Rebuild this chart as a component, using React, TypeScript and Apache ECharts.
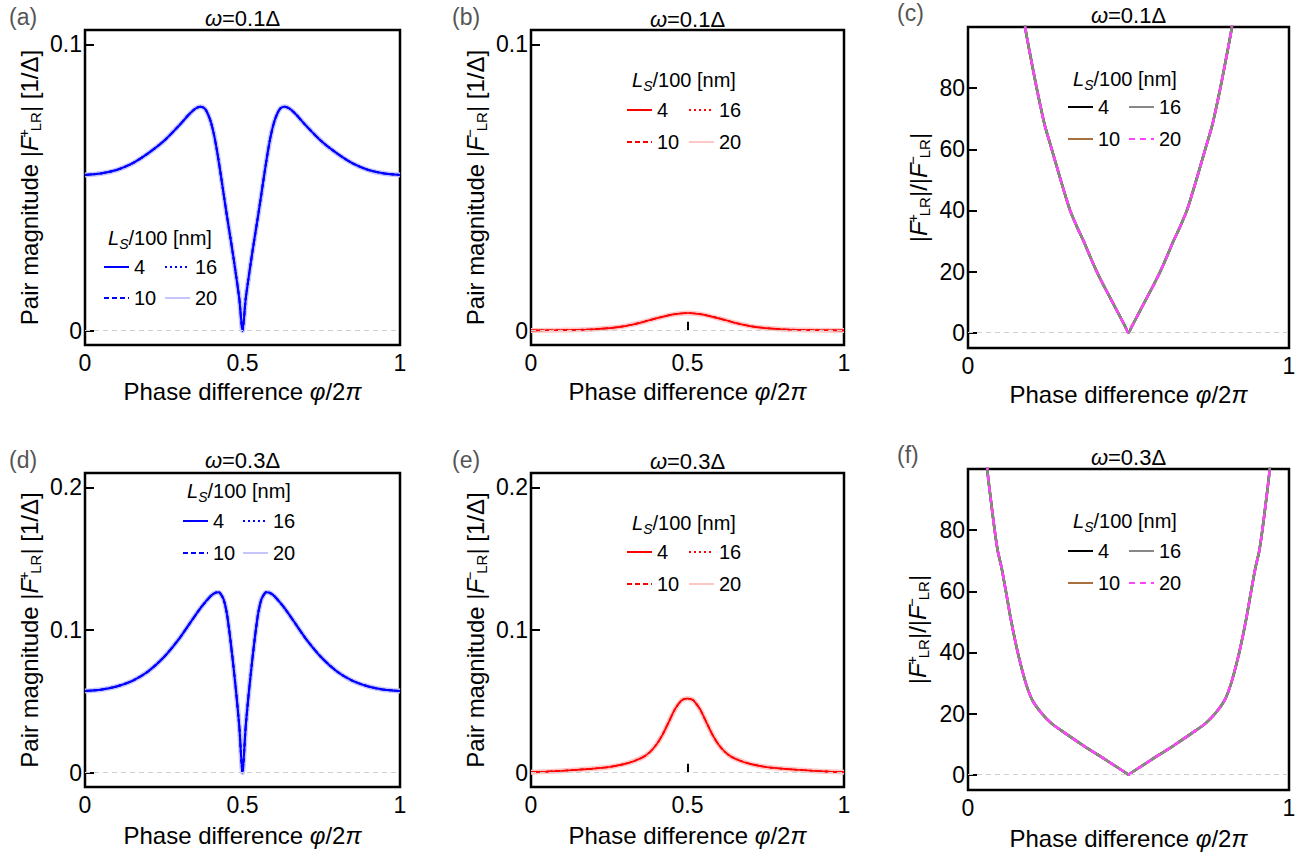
import React, { useEffect, useRef } from "react";
import * as echarts from "echarts";

const FONT = "'Liberation Sans', Arial, Helvetica, sans-serif";

// ---------- categories / tick labels ----------
const lengthLabels = ["4", "10", "16", "20"];
const panelIds = ["a", "b", "c", "d", "e", "f"];
const omegaLabels = ["0.1", "0.1", "0.1", "0.3", "0.3", "0.3"];
const xTicksFull = [0, 0.5, 1];
const xTicksEnds = [0, 1];
const yTicksLow = [0, 0.1];
const yTicksHigh = [0, 0.1, 0.2];
const yTicksRatio = [0, 20, 40, 60, 80];

// ---------- (a) |F+| , omega = 0.1 ----------
const phiA = [0, 0.05, 0.1, 0.15, 0.2, 0.25, 0.3, 0.33, 0.35, 0.366, 0.38, 0.39, 0.4, 0.41, 0.42, 0.43, 0.44, 0.45, 0.46, 0.47, 0.48, 0.49, 0.5,
  0.51, 0.52, 0.53, 0.54, 0.55, 0.56, 0.57, 0.58, 0.59, 0.6, 0.61, 0.62, 0.634, 0.65, 0.67, 0.7, 0.75, 0.8, 0.85, 0.9, 0.95, 1];
const valA = [0.0544, 0.0549, 0.0561, 0.0584, 0.0619, 0.0662, 0.0718, 0.0755, 0.0775, 0.0782, 0.0776, 0.0757, 0.0727, 0.0682, 0.0622, 0.0552, 0.0478, 0.0405, 0.0335, 0.0265, 0.019, 0.011, 0,
  0.011, 0.019, 0.0265, 0.0335, 0.0405, 0.0478, 0.0552, 0.0622, 0.0682, 0.0727, 0.0757, 0.0776, 0.0782, 0.0775, 0.0755, 0.0718, 0.0662, 0.0619, 0.0584, 0.0561, 0.0549, 0.0544];

// ---------- (b) |F-| , omega = 0.1 ----------
const phiB = [0, 0.1, 0.15, 0.2, 0.25, 0.3, 0.35, 0.4, 0.45, 0.5, 0.55, 0.6, 0.65, 0.7, 0.75, 0.8, 0.85, 0.9, 1];
const valB = [0.0001, 0.0002, 0.0003, 0.0005, 0.0009, 0.0016, 0.0028, 0.0043, 0.0056, 0.0062, 0.0056, 0.0043, 0.0028, 0.0016, 0.0009, 0.0005, 0.0003, 0.0002, 0.0001];

// ---------- (c) ratio , omega = 0.1 ----------
const phiC = [0.15, 0.178, 0.19, 0.2, 0.214, 0.23, 0.24, 0.261, 0.29, 0.318, 0.34, 0.36, 0.38, 0.401, 0.42, 0.45, 0.47, 0.49, 0.5,
  0.51, 0.53, 0.55, 0.58, 0.599, 0.62, 0.64, 0.66, 0.682, 0.71, 0.739, 0.76, 0.77, 0.786, 0.8, 0.81, 0.822, 0.85];
const valC = [125, 100, 93, 87.5, 80, 72, 67.5, 60, 49.5, 40, 34.5, 30, 25, 20, 16, 10, 6, 2, 0,
  2, 6, 10, 16, 20, 25, 30, 34.5, 40, 49.5, 60, 67.5, 72, 80, 87.5, 93, 100, 125];

// ---------- (d) |F+| , omega = 0.3 ----------
const phiD = [0, 0.05, 0.1, 0.15, 0.2, 0.25, 0.3, 0.34, 0.37, 0.4, 0.415, 0.425, 0.43, 0.44, 0.45, 0.46, 0.47, 0.48, 0.49, 0.5,
  0.51, 0.52, 0.53, 0.54, 0.55, 0.56, 0.57, 0.575, 0.585, 0.6, 0.63, 0.66, 0.7, 0.75, 0.8, 0.85, 0.9, 0.95, 1];
const valD = [0.0573, 0.0582, 0.0604, 0.0643, 0.0709, 0.0809, 0.0942, 0.107, 0.1163, 0.124, 0.1262, 0.1265, 0.1255, 0.1215, 0.112, 0.096, 0.077, 0.056, 0.032, 0,
  0.032, 0.056, 0.077, 0.096, 0.112, 0.1215, 0.1255, 0.1265, 0.1262, 0.124, 0.1163, 0.107, 0.0942, 0.0809, 0.0709, 0.0643, 0.0604, 0.0582, 0.0573];

// ---------- (e) |F-| , omega = 0.3 ----------
const phiE = [0, 0.05, 0.1, 0.15, 0.2, 0.25, 0.3, 0.33, 0.36, 0.38, 0.4, 0.42, 0.44, 0.46, 0.48, 0.49, 0.5, 0.51, 0.52, 0.54, 0.56, 0.58, 0.6, 0.62, 0.64, 0.67, 0.7, 0.75, 0.8, 0.85, 0.9, 0.95, 1];
const valE = [0.0004, 0.0008, 0.0014, 0.0021, 0.0029, 0.004, 0.0062, 0.0083, 0.0112, 0.0145, 0.0195, 0.0265, 0.0355, 0.0445, 0.0505, 0.0516, 0.052, 0.0516, 0.0505, 0.0445, 0.0355, 0.0265, 0.0195, 0.0145, 0.0112, 0.0083, 0.0062, 0.004, 0.0029, 0.0021, 0.0014, 0.0008, 0.0004];

// ---------- (f) ratio , omega = 0.3 ----------
const phiF = [0.05, 0.06, 0.071, 0.083, 0.093, 0.104, 0.118, 0.135, 0.155, 0.18, 0.2, 0.23, 0.26, 0.29, 0.36, 0.43, 0.49, 0.5,
  0.51, 0.57, 0.64, 0.71, 0.74, 0.77, 0.8, 0.82, 0.845, 0.865, 0.882, 0.896, 0.907, 0.917, 0.929, 0.94, 0.95];
const valF = [116, 100, 90, 80, 73, 68, 60, 50, 40, 30, 24.5, 20, 16.8, 14.5, 9.5, 4.8, 0.7, 0,
  0.7, 4.8, 9.5, 14.5, 16.8, 20, 24.5, 30, 40, 50, 60, 68, 73, 80, 90, 100, 116];

// ---------- styles ----------
type LineSty = { color: string; width: number; type: any };
const bluePalette: Record<string, LineSty> = {
  "4": { color: "#0000ff", width: 2, type: "solid" },
  "10": { color: "#0000ff", width: 2, type: [5, 3] },
  "16": { color: "#0000ff", width: 2, type: [2, 3] },
  "20": { color: "#c6c6ff", width: 5, type: "solid" },
};
const redPalette: Record<string, LineSty> = {
  "4": { color: "#ff0000", width: 1.6, type: "solid" },
  "10": { color: "#ff0000", width: 1.6, type: [5, 3] },
  "16": { color: "#ff0000", width: 1.6, type: [2, 3] },
  "20": { color: "#ffc6c6", width: 5, type: "solid" },
};
const ratioPalette: Record<string, LineSty> = {
  "4": { color: "#000000", width: 2.5, type: "solid" },
  "10": { color: "#a8703e", width: 2.5, type: "solid" },
  "16": { color: "#888888", width: 2.5, type: "solid" },
  "20": { color: "#ff44ff", width: 2.5, type: [6, 5] },
};

const Y_NAME_PLUS = "Pair magnitude |{i|F}{sup|+}{sub|LR}| [1/Δ]";
const Y_NAME_MINUS = "Pair magnitude |{i|F}{sup|−}{sub|LR}| [1/Δ]";
const Y_NAME_RATIO = "|{i|F}{sup|+}{sub|LR}|/|{i|F}{sup|−}{sub|LR}|";
const X_NAME = "Phase difference {i|φ}/2{i|π}";

type Panel = {
  phi: number[];
  vals: number[];
  kind: "plus" | "minus" | "ratio";
  grid: { left: number; top: number; width: number; height: number };
  yMin: number;
  yMax: number;
  yTicks: number[];
  xTicks: number[];
  yName: string;
  yNameGap: number;
  xNameGap: number;
  legend: { c1: number; c2: number; top: number; gap: number; hx: number; hy: number };
  label: { x: number; y: number };
  titleY: number;
};

const panels: Panel[] = [
  {
    phi: phiA, vals: valA, kind: "plus",
    grid: { left: 85, top: 30, width: 315, height: 315 },
    yMin: -0.005, yMax: 0.105, yTicks: yTicksLow, xTicks: xTicksFull,
    yName: Y_NAME_PLUS, yNameGap: 42, xNameGap: 34,
    legend: { c1: 103, c2: 164, top: 257, gap: 11, hx: 160, hy: 238 },
    label: { x: 9, y: 17 }, titleY: 18,
  },
  {
    phi: phiB, vals: valB, kind: "minus",
    grid: { left: 531, top: 30, width: 313, height: 315 },
    yMin: -0.005, yMax: 0.105, yTicks: yTicksLow, xTicks: xTicksFull,
    yName: Y_NAME_MINUS, yNameGap: 42, xNameGap: 34,
    legend: { c1: 626, c2: 688, top: 100, gap: 12, hx: 684, hy: 80 },
    label: { x: 452, y: 17 }, titleY: 19,
  },
  {
    phi: phiC, vals: valC, kind: "ratio",
    grid: { left: 968, top: 27, width: 321, height: 321 },
    yMin: -5, yMax: 100, yTicks: yTicksRatio, xTicks: xTicksEnds,
    yName: Y_NAME_RATIO, yNameGap: 36, xNameGap: 34,
    legend: { c1: 1067, c2: 1128, top: 97, gap: 12, hx: 1125, hy: 79 },
    label: { x: 897, y: 13 }, titleY: 15,
  },
  {
    phi: phiD, vals: valD, kind: "plus",
    grid: { left: 85, top: 473, width: 315, height: 314 },
    yMin: -0.01, yMax: 0.21, yTicks: yTicksHigh, xTicks: xTicksFull,
    yName: Y_NAME_PLUS, yNameGap: 42, xNameGap: 36,
    legend: { c1: 182, c2: 242, top: 511, gap: 12, hx: 239, hy: 491 },
    label: { x: 9, y: 460 }, titleY: 460,
  },
  {
    phi: phiE, vals: valE, kind: "minus",
    grid: { left: 531, top: 473, width: 313, height: 314 },
    yMin: -0.01, yMax: 0.21, yTicks: yTicksHigh, xTicks: xTicksFull,
    yName: Y_NAME_MINUS, yNameGap: 42, xNameGap: 36,
    legend: { c1: 626, c2: 688, top: 542, gap: 12, hx: 684, hy: 523 },
    label: { x: 452, y: 460 }, titleY: 461,
  },
  {
    phi: phiF, vals: valF, kind: "ratio",
    grid: { left: 968, top: 469, width: 321, height: 321 },
    yMin: -5, yMax: 100, yTicks: yTicksRatio, xTicks: xTicksEnds,
    yName: Y_NAME_RATIO, yNameGap: 37, xNameGap: 36,
    legend: { c1: 1067, c2: 1128, top: 541, gap: 12, hx: 1125, hy: 521 },
    label: { x: 897, y: 455 }, titleY: 457,
  },
];

const nameStyle = (size: number) => ({
  fontSize: size,
  fontFamily: FONT,
  color: "#000",
  rich: {
    i: { fontSize: size, fontFamily: FONT, color: "#000", fontStyle: "italic" },
    sup: { fontSize: 15, fontFamily: FONT, color: "#000", verticalAlign: "top", width: 4, padding: [0, 0, 0, 1] },
    sub: { fontSize: 15, fontFamily: FONT, color: "#000", verticalAlign: "bottom", padding: [12, 0, 0, 0] },
  },
});

function buildOption() {
  const grid: any[] = [];
  const xAxis: any[] = [];
  const yAxis: any[] = [];
  const series: any[] = [];
  const legend: any[] = [];
  const graphic: any[] = [];

  panels.forEach((p, i) => {
    const id = panelIds[i];
    grid.push({
      ...p.grid,
      show: true,
      borderColor: "#000",
      borderWidth: 2.5,
      backgroundColor: "transparent",
      containLabel: false,
    });
    xAxis.push({
      gridIndex: i,
      type: "value",
      min: 0,
      max: 1,
      axisLine: { show: false },
      splitLine: { show: false },
      axisTick: { show: true, inside: true, length: 9, lineStyle: { color: "#000", width: 2 }, customValues: p.xTicks },
      axisLabel: { customValues: p.xTicks, fontSize: 23, fontFamily: FONT, color: "#000", margin: 6 },
      name: X_NAME,
      nameLocation: "middle",
      nameGap: p.xNameGap,
      nameTextStyle: {
        fontSize: 24,
        fontFamily: FONT,
        color: "#000",
        rich: { i: { fontSize: 24, fontFamily: FONT, color: "#000", fontStyle: "italic" } },
      },
    });
    yAxis.push({
      gridIndex: i,
      type: "value",
      min: p.yMin,
      max: p.yMax,
      axisLine: { show: false },
      splitLine: { show: false },
      axisTick: { show: true, inside: true, length: 9, lineStyle: { color: "#000", width: 2 }, customValues: p.yTicks },
      axisLabel: { customValues: p.yTicks, fontSize: 23, fontFamily: FONT, color: "#000", margin: 3 },
      name: p.yName,
      nameLocation: "middle",
      nameGap: p.yNameGap,
      nameTextStyle: nameStyle(24),
    });

    const palette = p.kind === "plus" ? bluePalette : p.kind === "minus" ? redPalette : ratioPalette;
    const order = p.kind === "ratio" ? ["4", "10", "16", "20"] : ["20", "16", "10", "4"];
    const data = p.phi.map((x, k) => [x, p.vals[k]]);
    order.forEach((L, k) => {
      const st = palette[L];
      const s: any = {
        type: "line",
        name: id + L,
        xAxisIndex: i,
        yAxisIndex: i,
        data,
        symbol: "none",
        showSymbol: false,
        smooth: 0.25,
        clip: true,
        silent: true,
        emphasis: { disabled: true },
        lineStyle: { color: st.color, width: st.width, type: st.type },
        itemStyle: { color: st.color },
      };
      if (k === 0) {
        s.markLine = {
          silent: true,
          symbol: ["none", "none"],
          label: { show: false },
          lineStyle: { color: "#cfcfcf", type: [5, 4], width: 1 },
          data: [{ yAxis: 0 }],
        };
      }
      series.push(s);
    });

    const legendBase = {
      orient: "vertical",
      top: p.legend.top,
      itemWidth: 25,
      itemHeight: 14,
      itemGap: p.legend.gap,
      padding: 0,
      selectedMode: false,
      formatter: (n: string) => n.slice(1),
      itemStyle: { opacity: 0, borderWidth: 0 },
      textStyle: { fontSize: 20, fontFamily: FONT, color: "#000" },
    };
    legend.push({ ...legendBase, left: p.legend.c1, data: [id + lengthLabels[0], id + lengthLabels[1]] });
    legend.push({ ...legendBase, left: p.legend.c2, data: [id + lengthLabels[2], id + lengthLabels[3]] });

    // legend header
    graphic.push({
      type: "text",
      x: p.legend.hx,
      y: p.legend.hy,
      silent: true,
      style: {
        text: "{i|L}{s|S}/100 [nm]",
        fontSize: 20,
        fontFamily: FONT,
        fill: "#000",
        align: "center",
        verticalAlign: "middle",
        textAlign: "center",
        textVerticalAlign: "middle",
        rich: {
          i: { fontSize: 20, fontFamily: FONT, fill: "#000", fontStyle: "italic" },
          s: { fontSize: 14, fontFamily: FONT, fill: "#000", fontStyle: "italic", verticalAlign: "bottom", padding: [11, 0, 0, 0] },
        },
      },
    });
    // panel title
    graphic.push({
      type: "text",
      x: p.grid.left + p.grid.width / 2,
      y: p.titleY,
      silent: true,
      style: {
        text: "{i|ω}=" + omegaLabels[i] + "Δ",
        fontSize: 22,
        fontFamily: FONT,
        fill: "#000",
        align: "center",
        verticalAlign: "middle",
        textAlign: "center",
        textVerticalAlign: "middle",
        rich: { i: { fontSize: 22, fontFamily: FONT, fill: "#000", fontStyle: "italic" } },
      },
    });
    // panel label
    graphic.push({
      type: "text",
      x: p.label.x,
      y: p.label.y,
      silent: true,
      style: {
        text: "(" + id + ")",
        fontSize: 23,
        fontFamily: FONT,
        fill: "#555555",
        align: "left",
        verticalAlign: "middle",
        textAlign: "left",
        textVerticalAlign: "middle",
      },
    });
  });

  return {
    animation: false,
    backgroundColor: "#ffffff",
    textStyle: { fontFamily: FONT },
    grid,
    xAxis,
    yAxis,
    series,
    legend,
    graphic,
  };
}

export default function App() {
  const ref = useRef<HTMLDivElement | null>(null);
  useEffect(() => {
    if (!ref.current) return;
    const chart = echarts.init(ref.current, null, { renderer: "svg" });
    chart.setOption(buildOption() as any);
    return () => {
      chart.dispose();
    };
  }, []);
  return (
    <div
      ref={ref}
      style={{ position: "fixed", left: 0, top: 0, width: 1309, height: 857, background: "#fff" }}
    />
  );
}
